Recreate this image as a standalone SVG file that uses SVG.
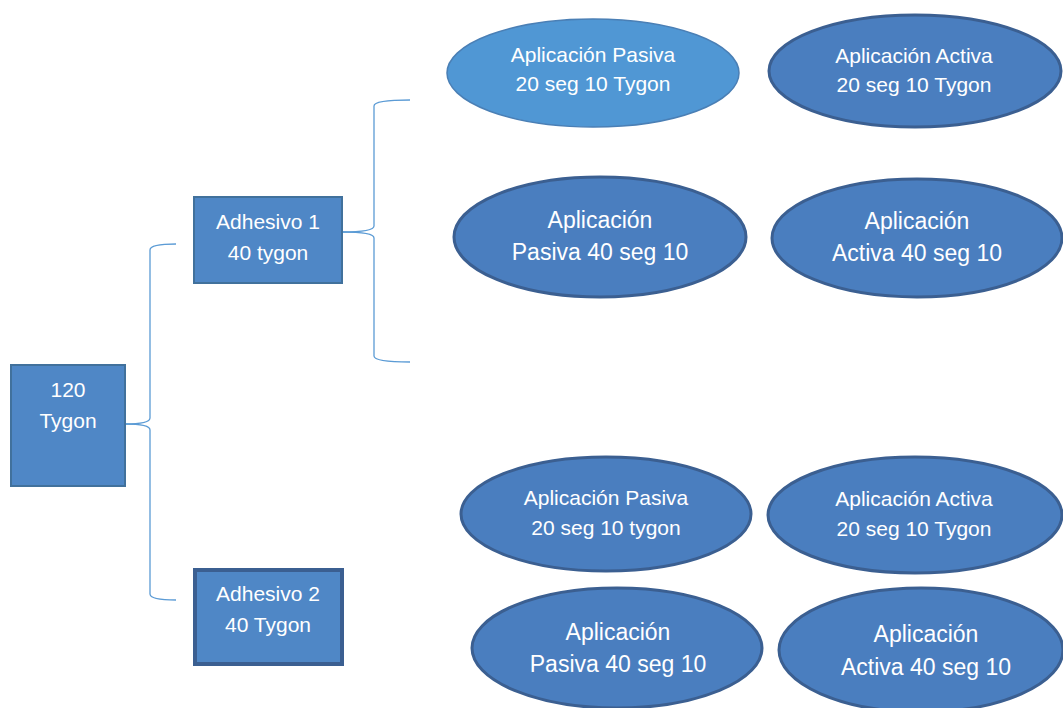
<svg xmlns="http://www.w3.org/2000/svg" width="1063" height="708" viewBox="0 0 1063 708">
<style>
.box{fill:#4f87c6;stroke:#41719c;stroke-width:2}
.box2{fill:#4f87c6;stroke:#3b5f91;stroke-width:4}
.ell{fill:#4a7ebf;stroke:#3b5f91;stroke-width:3}
.ell-light{fill:#5097d4;stroke:#4a7fb5;stroke-width:1.5}
.brace{fill:none;stroke:#5b9bd5;stroke-width:1.3}
text{font-family:"Liberation Sans",Arial,sans-serif;fill:#ffffff;text-anchor:middle}
.s{font-size:21px}
.l{font-size:23px}
</style>
<rect width="1063" height="708" fill="#ffffff"/>
<g id="connectors">
<path class="brace" d="M125,424 Q150,424 150,418 L150,250 Q150,244 176,244"/>
<path class="brace" d="M125,424 Q150,424 150,430 L150,594 Q150,600 176,600"/>
<path class="brace" d="M342,232 Q374,232 374,226 L374,106 Q374,100 410,100"/>
<path class="brace" d="M342,232 Q374,232 374,238 L374,356 Q374,362 410,362"/>
</g>
<g id="n120">
<rect class="box" x="11" y="365" width="114" height="121"/>
<text class="s" x="68" y="397">120</text>
<text class="s" x="68" y="428">Tygon</text>
</g>
<g id="adhesivo1">
<rect class="box" x="194" y="197" width="148" height="86"/>
<text class="s" x="268" y="229">Adhesivo 1</text>
<text class="s" x="268" y="260">40 tygon</text>
</g>
<g id="adhesivo2">
<rect class="box2" x="195" y="570" width="147" height="94"/>
<text class="s" x="268" y="601">Adhesivo 2</text>
<text class="s" x="268" y="632">40 Tygon</text>
</g>
<g id="e1">
<ellipse class="ell-light" cx="593" cy="73" rx="146" ry="54"/>
<text class="s" x="593" y="62">Aplicación Pasiva</text>
<text class="s" x="593" y="91">20 seg 10 Tygon</text>
</g>
<g id="e2">
<ellipse class="ell" cx="915" cy="71" rx="146" ry="56"/>
<text class="s" x="914" y="63">Aplicación Activa</text>
<text class="s" x="914" y="92">20 seg 10 Tygon</text>
</g>
<g id="e3">
<ellipse class="ell" cx="600" cy="237" rx="146" ry="60"/>
<text class="l" x="600" y="228">Aplicación</text>
<text class="l" x="600" y="260">Pasiva 40 seg 10</text>
</g>
<g id="e4">
<ellipse class="ell" cx="917" cy="238" rx="145" ry="59"/>
<text class="l" x="917" y="229">Aplicación</text>
<text class="l" x="917" y="261">Activa 40 seg 10</text>
</g>
<g id="e5">
<ellipse class="ell" cx="606" cy="514" rx="145" ry="57"/>
<text class="s" x="606" y="505">Aplicación Pasiva</text>
<text class="s" x="606" y="535">20 seg 10 tygon</text>
</g>
<g id="e6">
<ellipse class="ell" cx="915" cy="515" rx="147" ry="58"/>
<text class="s" x="914" y="506">Aplicación Activa</text>
<text class="s" x="914" y="536">20 seg 10 Tygon</text>
</g>
<g id="e7">
<ellipse class="ell" cx="617" cy="648" rx="145" ry="60"/>
<text class="l" x="618" y="640">Aplicación</text>
<text class="l" x="618" y="672">Pasiva 40 seg 10</text>
</g>
<g id="e8">
<ellipse class="ell" cx="921" cy="650" rx="142" ry="62"/>
<text class="l" x="926" y="642">Aplicación</text>
<text class="l" x="926" y="675">Activa 40 seg 10</text>
</g>
</svg>
